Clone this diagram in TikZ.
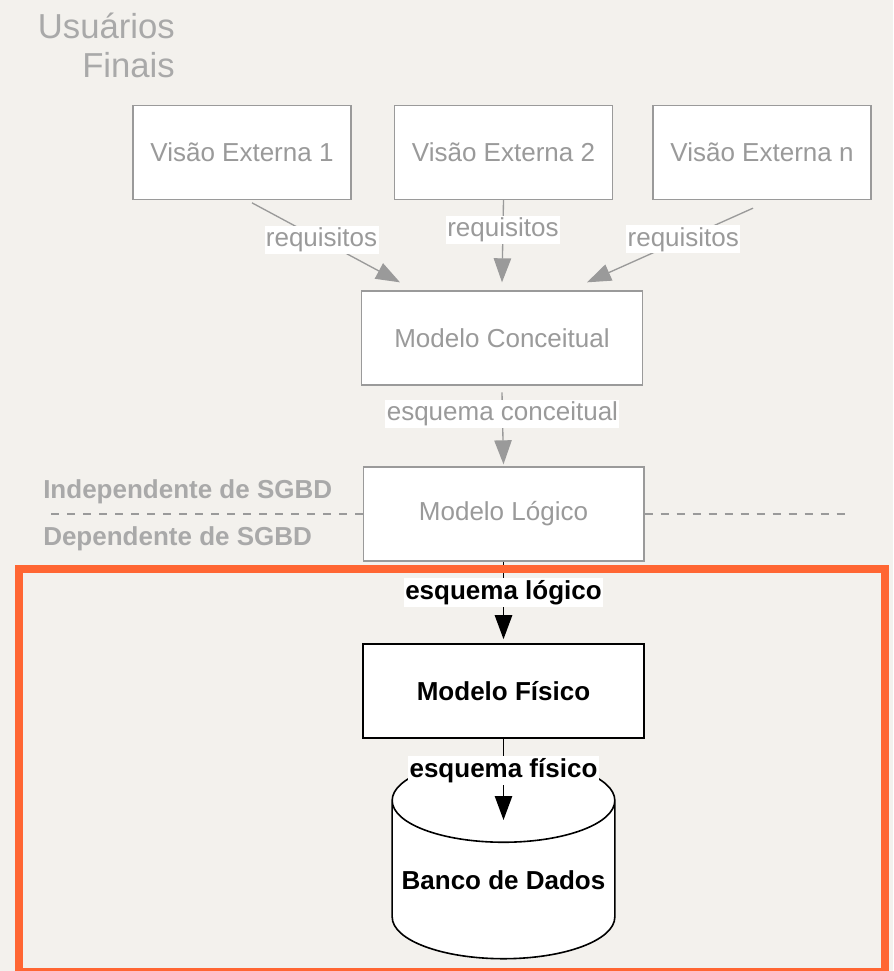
\documentclass[tikz,border=0pt]{standalone}
\usepackage{fontspec}
\setmainfont{Liberation Sans}
\usetikzlibrary{arrows.meta,shapes.geometric}

\definecolor{paper}{HTML}{F3F1ED}
\definecolor{softgray}{HTML}{9A9A9A}
\definecolor{frameorange}{HTML}{FF6633}

\newcommand{\lblfont}{\fontsize{19.5}{23}\selectfont}
\tikzstyle{lvlbox}=[rectangle,draw=softgray,line width=1pt,fill=white,text=softgray,minimum height=70.5pt,inner sep=0pt,font=\lblfont]
\tikzstyle{viewbox}=[lvlbox,minimum width=163.5pt]
\tikzstyle{modelbox}=[lvlbox,minimum width=210.5pt]
\tikzstyle{physbox}=[modelbox,draw=black,text=black,line width=1.2pt,font=\lblfont\bfseries]
\tikzstyle{flow}=[draw=softgray,line width=1pt,-{Triangle[length=18pt,width=13pt]}]
\tikzstyle{flowb}=[flow,draw=black,line width=1.2pt]
\tikzstyle{tag}=[fill=white,text=softgray,inner xsep=1pt,inner ysep=1.5pt,font=\lblfont]
\tikzstyle{tagb}=[tag,text=black,font=\lblfont\bfseries]
\tikzstyle{divider}=[draw=softgray,line width=1pt,dash pattern=on 6pt off 6pt]

\begin{document}
\begin{tikzpicture}[x=0.75pt,y=-0.75pt]
      \useasboundingbox (0,0) rectangle (893,971);
      \fill[paper] (0,0) rectangle (893,971);

      \node[anchor=north east,align=right,text=softgray!85,inner sep=0pt,
        font=\fontsize{26}{29.25}\selectfont] (users) at (175,13) {Usuários\\Finais};

      \node[viewbox] (ve1) at (242,152.5) {Visão Externa 1};
      \node[viewbox] (ve2) at (503.5,152.5) {Visão Externa 2};
      \node[viewbox] (ven) at (762,152.5) {Visão Externa n};

      \node[modelbox] (mc) at (502,338) {Modelo Conceitual};
      \node[modelbox] (ml) at (503.5,514) {Modelo Lógico};
      \node[physbox] (mf) at (503.5,691) {Modelo Físico};
      \node[cylinder,shape border rotate=90,aspect=0.41,draw=black,line width=1.2pt,fill=white,
        minimum width=167pt,minimum height=150pt,inner sep=0pt,font=\lblfont\bfseries] (db) at (503.5,880) {Banco de Dados};
      \coordinate (dbin) at ([yshift=45pt]db.center);

      \draw[flow] ([xshift=7.5pt,yshift=-2pt]ve1.south) -- node[tag,pos=.47]{requisitos} ([xshift=-76.5pt,yshift=6pt]mc.north);
      \draw[flow] (ve2.south) -- node[tag,pos=.36]{requisitos} ([yshift=6pt]mc.north);
      \draw[flow] ([xshift=-6.75pt,yshift=-6pt]ven.south) -- node[tag,pos=.42]{requisitos} ([xshift=63.75pt,yshift=6pt]mc.north);
      \draw[flow] ([yshift=-5pt]mc.south) -- node[tag,pos=.3]{esquema conceitual} ([yshift=1.5pt]ml.north);

      \draw[divider] (ml.west) -- (43,514);
      \draw[divider] (ml.east) -- (849,514);
      \node[anchor=west,inner sep=0pt,text=softgray!85,font=\lblfont\bfseries] (indep) at (43,492) {Independente de SGBD};
      \node[anchor=west,inner sep=0pt,text=softgray!85,font=\lblfont\bfseries] (dep) at (43,539) {Dependente de SGBD};

      \draw[flowb] (ml.south) -- node[tagb,pos=.4]{esquema lógico} ([yshift=3pt]mf.north);
      \draw[flowb] (mf.south) -- node[tagb,pos=.39]{esquema físico} (dbin);

      \draw[frameorange,line width=6pt] (19,569) rectangle (885,972);
    \end{tikzpicture}
\end{document}
